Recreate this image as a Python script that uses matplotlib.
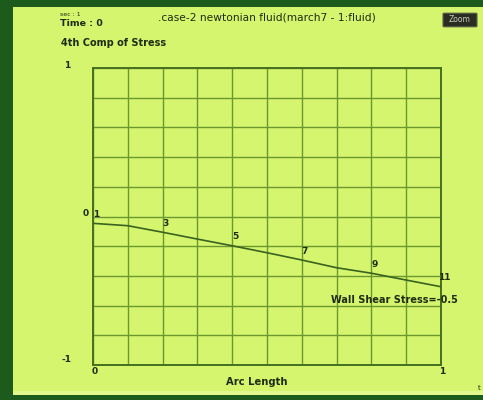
import matplotlib
matplotlib.use("Agg")
import matplotlib.pyplot as plt
from matplotlib.patches import Rectangle, FancyBboxPatch

# Stress component along the wall, one value per node
arc_length = [0.0, 0.1, 0.2, 0.3, 0.4, 0.5, 0.6, 0.7, 0.8, 0.9, 1.0]
stress_4 = [-0.046, -0.062, -0.106, -0.152, -0.197, -0.244,
            -0.293, -0.345, -0.382, -0.428, -0.473]
node_ids = ["1", "2", "3", "4", "5", "6", "7", "8", "9", "10", "11"]
labelled_nodes = ["1", "3", "5", "7", "9", "11"]

title = ".case-2 newtonian fluid(march7 - 1:fluid)"
y_name = "4th Comp of Stress"
x_name = "Arc Length"
wall_text = "Wall Shear Stress=-0.5"
y_tick_vals = [1, 0, -1]
y_tick_text = ["1", "0", "-1"]
x_tick_vals = [0, 1]
x_tick_text = ["0", "1"]

W, H = 483, 400
BG_FRAME = "#1d5b1d"
PANEL = "#d4f56d"
GRID = "#6c962f"
AXIS = "#46701e"
LINE = "#3a6220"
INK = "#1e2c12"

plt.rcParams["font.family"] = ["DejaVu Sans"]

fig = plt.figure(figsize=(W / 100, H / 100), dpi=100, facecolor=BG_FRAME)


def fx(x):
    return x / W


def fy(y):
    return 1 - y / H


# light panel inside the dark frame
fig.patches.append(Rectangle((fx(13), fy(395)), fx(483) - fx(13), fy(7) - fy(395),
                             transform=fig.transFigure, facecolor=PANEL,
                             edgecolor="none", zorder=-2))
fig.patches.append(Rectangle((fx(13), fy(395)), fx(483) - fx(13), fy(391) - fy(395),
                             transform=fig.transFigure, facecolor="#e2f98e",
                             edgecolor="none", zorder=-2))

left, right, top, bottom = 93, 441, 68, 365
ax = fig.add_axes([fx(left), fy(bottom), fx(right) - fx(left), fy(top) - fy(bottom)])
ax.set_facecolor("none")
ax.set_xlim(0, 1)
ax.set_ylim(-1, 1)
ax.set_xticks([i / 10 for i in range(11)])
ax.set_yticks([-1 + i / 5 for i in range(11)])
ax.tick_params(length=0, labelbottom=False, labelleft=False)
ax.grid(True, color=GRID, linewidth=1.0)
for s in ax.spines.values():
    s.set_color(AXIS)
    s.set_linewidth(1.4)

ax.plot(arc_length, stress_4, color=LINE, linewidth=1.2, zorder=3)

for nid, xv, yv in zip(node_ids, arc_length, stress_4):
    if nid in labelled_nodes:
        ax.annotate(nid, (xv, yv), xytext=(3, 9), textcoords="offset pixels",
                    ha="center", va="center", fontsize=6.5, fontweight="bold",
                    color=INK, zorder=4)

# axis value labels
lab = dict(ha="center", va="center", fontsize=6.5, fontweight="bold", color=INK,
           textcoords="offset pixels", annotation_clip=False)
y_offsets = [(-26, 3), (-7, 3), (-26, 5)]
for txt, yv, off in zip(y_tick_text, y_tick_vals, y_offsets):
    ax.annotate(txt, (0, yv), xytext=off, **lab)
x_offsets = [(2, -6), (1, -6)]
for txt, xv, off in zip(x_tick_text, x_tick_vals, x_offsets):
    ax.annotate(txt, (xv, -1), xytext=off, **lab)

ax.annotate(wall_text, (1, stress_4[-1]), xytext=(17, -13), textcoords="offset pixels",
            ha="right", va="center", fontsize=7.0, fontweight="bold", color=INK,
            annotation_clip=False)

# header texts
fig.text(fx(60), fy(15), "sec : 1", fontsize=4.5, color=INK, va="center", ha="left")
fig.text(fx(60), fy(24), "Time : 0", fontsize=6.8, fontweight="bold", color=INK,
         va="center", ha="left")
fig.text(fx(158), fy(18), title, fontsize=7.7, color=INK, va="center", ha="left")
fig.text(fx(61), fy(43), y_name, fontsize=7.0, fontweight="bold", color=INK,
         va="center", ha="left")
fig.text(fx(257), fy(382), x_name, fontsize=7.2, fontweight="bold", color=INK,
         va="center", ha="center")
fig.text(fx(479), fy(388), "t", fontsize=5, color=INK, va="center", ha="center")

# zoom button
fig.patches.append(FancyBboxPatch((fx(444), fy(26)), fx(476) - fx(444), fy(14) - fy(26),
                                  boxstyle="round,pad=0.002", transform=fig.transFigure,
                                  facecolor="#2a2e22", edgecolor="#555a48", linewidth=0.8,
                                  zorder=1))
fig.text(fx(460), fy(20), "Zoom", fontsize=5.5, color="#c8cbbd", va="center",
         ha="center", zorder=2)

fig.savefig("out.png", dpi=100, facecolor=BG_FRAME)
